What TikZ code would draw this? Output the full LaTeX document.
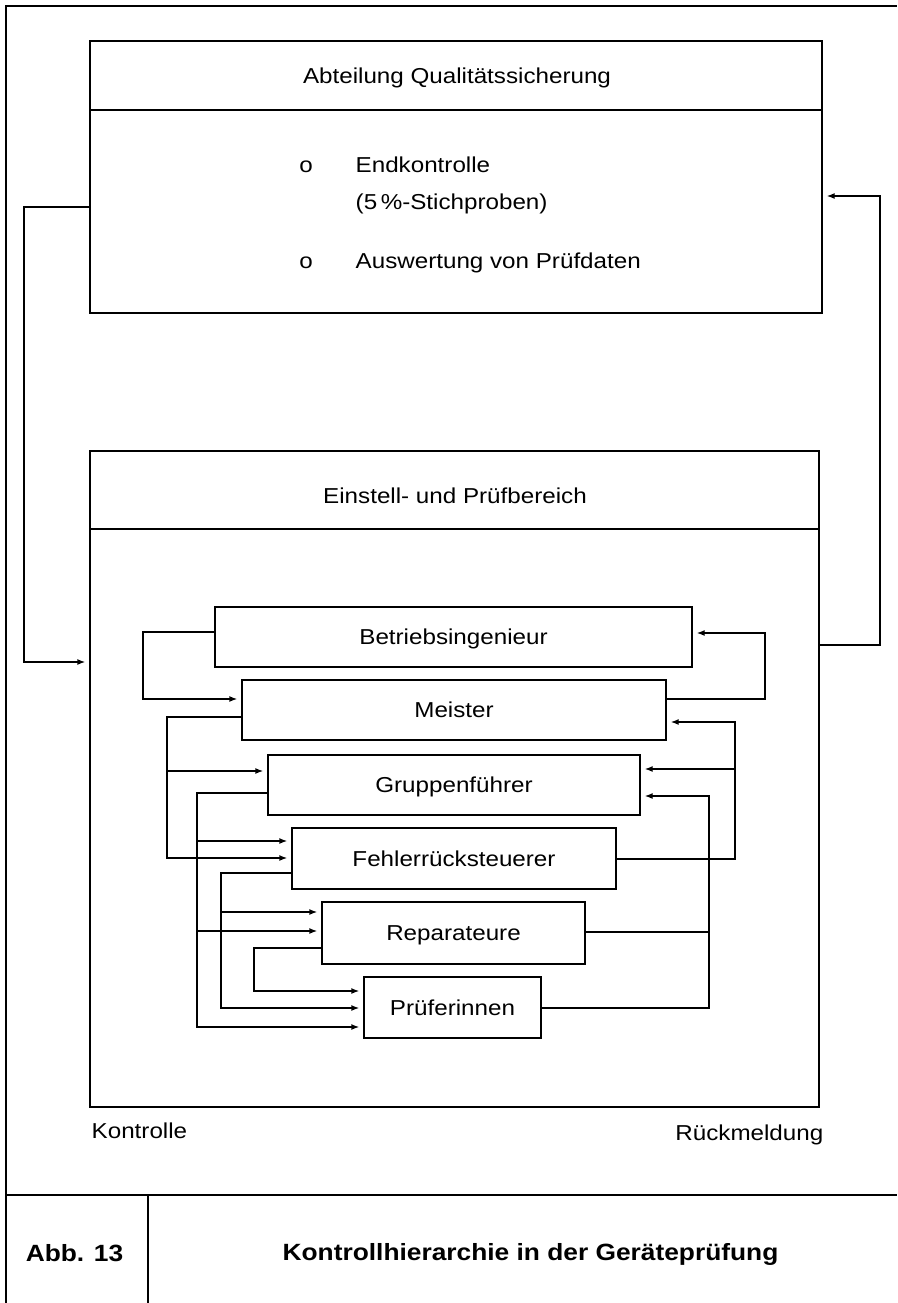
\documentclass[tikz,border=0pt]{standalone}
\usepackage{fontspec}
\setmainfont{Liberation Sans}[FakeStretch=1.12]
\usetikzlibrary{arrows.meta}
\begin{document}
\begin{tikzpicture}[x=1pt,y=-1pt,line width=1.4pt,
  txt/.style={inner sep=0pt,font=\fontsize{21.6}{25}\selectfont},
  head/.style={inner sep=0pt,font=\fontsize{23.5}{28}\selectfont\bfseries},
  frame/.style={draw,inner sep=0pt},
  unit/.style={draw,inner sep=0pt,text height=15pt,text depth=0pt,
               font=\fontsize{21.6}{25}\selectfont},
  arr/.style={-{Latex[length=8pt,width=6pt]},shorten >=4pt}]
\useasboundingbox (0,0) rectangle (897,1303);

% page frame and caption strip
\draw (6,1303) -- (6,6) -- (897,6);
\draw (6,1195) -- (897,1195);
\draw (148,1195) -- (148,1303);
\node[head,anchor=base] (abb) at (74.5,1261) {Abb. 13};
\node[head,anchor=base] (title) at (530.5,1260) {Kontrollhierarchie in der Geräteprüfung};

% department box
\node[frame,minimum width=732pt,minimum height=272pt] (qs) at (456,177) {};
\draw (qs.west |- 0,110) -- (qs.east |- 0,110);
\node[txt,anchor=base] (qsh) at (457,84) {Abteilung Qualitätssicherung};
\node[txt,anchor=base] (o1) at (306,172) {o};
\node[txt,anchor=base west] (t1) at (355,172) {Endkontrolle};
\node[txt,anchor=base west] (t2) at (355,209) {(5\,\%-Stichproben)};
\node[txt,anchor=base] (o2) at (306,268) {o};
\node[txt,anchor=base west] (t3) at (355,268) {Auswertung von Prüfdaten};

% adjustment and test area
\node[frame,minimum width=729pt,minimum height=656pt] (epb) at (454.5,779) {};
\draw (epb.west |- 0,529) -- (epb.east |- 0,529);
\node[txt,anchor=base] (epbh) at (455,503) {Einstell- und Prüfbereich};

% hierarchy levels
\node[unit,minimum width=477pt,minimum height=60pt] (bi) at (453.5,637) {Betriebsingenieur};
\node[unit,minimum width=424pt,minimum height=60pt] (me) at (454,710) {Meister};
\node[unit,minimum width=372pt,minimum height=60pt] (gf) at (454,785) {Gruppenführer};
\node[unit,minimum width=324pt,minimum height=61pt] (fr) at (454,858.5) {Fehlerrücksteuerer};
\node[unit,minimum width=263pt,minimum height=62pt] (rp) at (453.5,933) {Reparateure};
\node[unit,minimum width=177pt,minimum height=61pt] (pf) at (452.5,1007.5) {Prüferinnen};

\node[txt,anchor=base west] (kon) at (91,1138) {Kontrolle};
\node[txt,anchor=base east] (rue) at (824,1140) {Rückmeldung};

% control and feedback between department and area
\draw[arr] (qs.west |- 0,207) -- (24,207) -- (24,662) -- (epb.west |- 0,662);
\draw[arr] (epb.east |- 0,645) -- (880,645) -- (880,196) -- (qs.east |- 0,196);

% control paths (left)
\draw[arr] (bi.west |- 0,632) -- (143,632) -- (143,699) -- (me.west |- 0,699);
\draw[arr] (me.west |- 0,717) -- (167,717) -- (167,858) -- (fr.west |- 0,858);
\coordinate (m1) at (167,771);
\draw[arr] (m1) -- (gf.west |- m1);
\draw[arr] (gf.west |- 0,793) -- (197,793) -- (197,1027) -- (pf.west |- 0,1027);
\coordinate (g1) at (197,841);
\coordinate (g2) at (197,931);
\draw[arr] (g1) -- (fr.west |- g1);
\draw[arr] (g2) -- (rp.west |- g2);
\draw[arr] (fr.west |- 0,873) -- (221,873) -- (221,1008) -- (pf.west |- 0,1008);
\coordinate (f1) at (221,912);
\draw[arr] (f1) -- (rp.west |- f1);
\draw[arr] (rp.west |- 0,948) -- (254,948) -- (254,991) -- (pf.west |- 0,991);

% feedback paths (right)
\draw[arr] (me.east |- 0,699) -- (765,699) -- (765,633) -- (bi.east |- 0,633);
\draw[arr] (fr.east |- 0,859) -- (735,859) -- (735,722) -- (me.east |- 0,722);
\coordinate (r1) at (735,769);
\draw[arr] (r1) -- (gf.east |- r1);
\draw[arr] (rp.east |- 0,932) -- (709,932) -- (709,796) -- (gf.east |- 0,796);
\coordinate (r2) at (709,932);
\draw (pf.east |- 0,1008) -- (709,1008) -- (r2);
\end{tikzpicture}
\end{document}
